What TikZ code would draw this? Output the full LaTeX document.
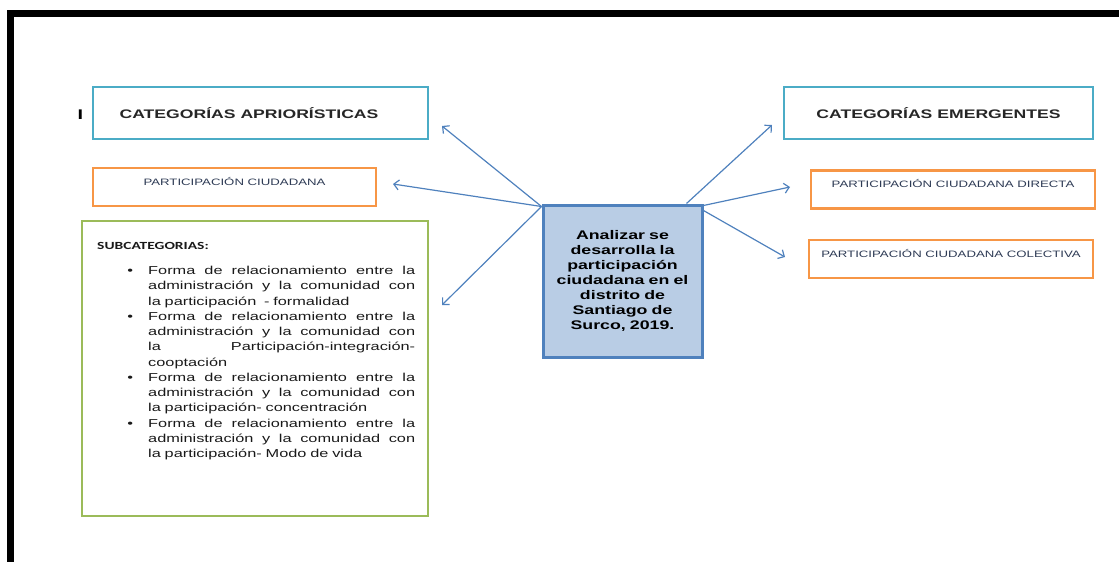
\documentclass[tikz,border=0pt]{standalone}
\usepackage{fontspec}
\setmainfont{Liberation Sans}[FakeStretch=1.42]
\newfontfamily\subfont{Carlito}[FakeStretch=1.42]
\usetikzlibrary{arrows.meta}
\definecolor{cyanline}{HTML}{4BACC6}
\definecolor{orangeline}{HTML}{F79646}
\definecolor{greenline}{HTML}{9BBB59}
\definecolor{goalfill}{HTML}{B9CDE5}
\definecolor{goalline}{HTML}{4F81BD}
\definecolor{labelnavy}{HTML}{2E3B55}
\newcommand{\jline}[1]{\makebox[267pt][s]{\spaceskip=\fontdimen2\font plus 1fil\relax #1}}

\begin{document}
\begin{tikzpicture}[x=1pt, y=-1pt,
    catbox/.style={draw=cyanline, line width=2.5pt, minimum width=#1, minimum height=52pt,
        inner sep=0pt, font=\bfseries\fontsize{12.4}{14}\selectfont, text=black!85},
    partbox/.style={draw=orangeline, line width=2.8pt, minimum width=#1, minimum height=38pt,
        inner sep=0pt, text height=7pt, text depth=10.4pt, font=\fontsize{9.3}{11}\selectfont, text=labelnavy},
    subbox/.style={draw=greenline, line width=2.8pt, minimum width=346pt, minimum height=295pt},
    goalbox/.style={draw=goalline, fill=goalfill, line width=3pt, minimum width=159pt, minimum height=152pt,
        text width=150pt, align=center, inner sep=0pt, font=\bfseries\fontsize{12.5}{14.9}\selectfont},
    link/.style={draw=goalline, line width=1.2pt, -{Straight Barb[length=5pt, width=10pt]}}]
    \useasboundingbox (0,0) rectangle (1119,562);
    % frame
    \draw[line width=7pt] (1119,13.5) -- (10.5,13.5) -- (10.5,562);

    \node[font=\bfseries\fontsize{14}{14}\selectfont] (mark) at (80.5,115) {I};
    \node[catbox=335pt] (apri) at (260.5,113) {CATEGORÍAS APRIORÍSTICAS\kern23pt};
    \node[catbox=309pt] (emer) at (938.5,113) {CATEGORÍAS EMERGENTES};
    \node[partbox=283pt] (pciu) at (234.5,187) {PARTICIPACIÓN CIUDADANA};
    \node[partbox=284pt] (pdir) at (953,189.5) {PARTICIPACIÓN CIUDADANA DIRECTA};
    \node[partbox=284pt] (pcol) at (951,259) {PARTICIPACIÓN CIUDADANA COLECTIVA};

    \node[subbox] (sub) at (255,368.5) {};
    \node[anchor=north west, inner sep=0pt, text width=318pt, text=black!90,
        font=\fontsize{11.5}{15.25}\selectfont] (sublist) at (97,242) {%
        {\subfont\bfseries\fontsize{10.9}{11}\selectfont SUBCATEGORIAS:\par}
        \vspace{10pt}
        \begin{list}{\textbullet}{\setlength\leftmargin{51pt}\setlength\labelsep{15pt}%
            \setlength\labelwidth{10pt}\setlength\itemsep{0pt}\setlength\parsep{0pt}%
            \setlength\topsep{0pt}\setlength\partopsep{0pt}}
        \item \jline{Forma de relacionamiento entre la}\\
            \jline{administración y la comunidad con}\\
            la participación \ - formalidad
        \item \jline{Forma de relacionamiento entre la}\\
            \jline{administración y la comunidad con}\\
            \jline{la Participación-integración-}\\
            cooptación
        \item \jline{Forma de relacionamiento entre la}\\
            \jline{administración y la comunidad con}\\
            la participación- concentración
        \item \jline{Forma de relacionamiento entre la}\\
            \jline{administración y la comunidad con}\\
            la participación- Modo de vida
        \end{list}};

    \node[goalbox] (goal) at (622.5,281) {Analizar se\\ desarrolla la\\ participación\\
        ciudadana en el\\ distrito de\\ Santiago de\\ Surco, 2019.};

    % arrow ends
    \coordinate (apritip) at (442,126);
    \coordinate (pciutip) at (393,184);
    \coordinate (subtip) at (442,305);
    \coordinate (emertip) at (772,125);
    \coordinate (pdirtip) at (790,187);
    \coordinate (pcoltip) at (785,257);

    \draw[link] ([yshift=-3pt]goal.north west) -- (apritip);
    \draw[link] ([yshift=-3pt]goal.north west) -- (pciutip);
    \draw[link] ([yshift=-3pt]goal.north west) -- (subtip);
    \draw[link] ([xshift=-17pt]goal.north east) -- (emertip);
    \draw[link] ([yshift=-2pt]goal.north east) -- (pdirtip);
    \draw[link] ([yshift=-7pt]goal.north east) -- (pcoltip);
\end{tikzpicture}
\end{document}
